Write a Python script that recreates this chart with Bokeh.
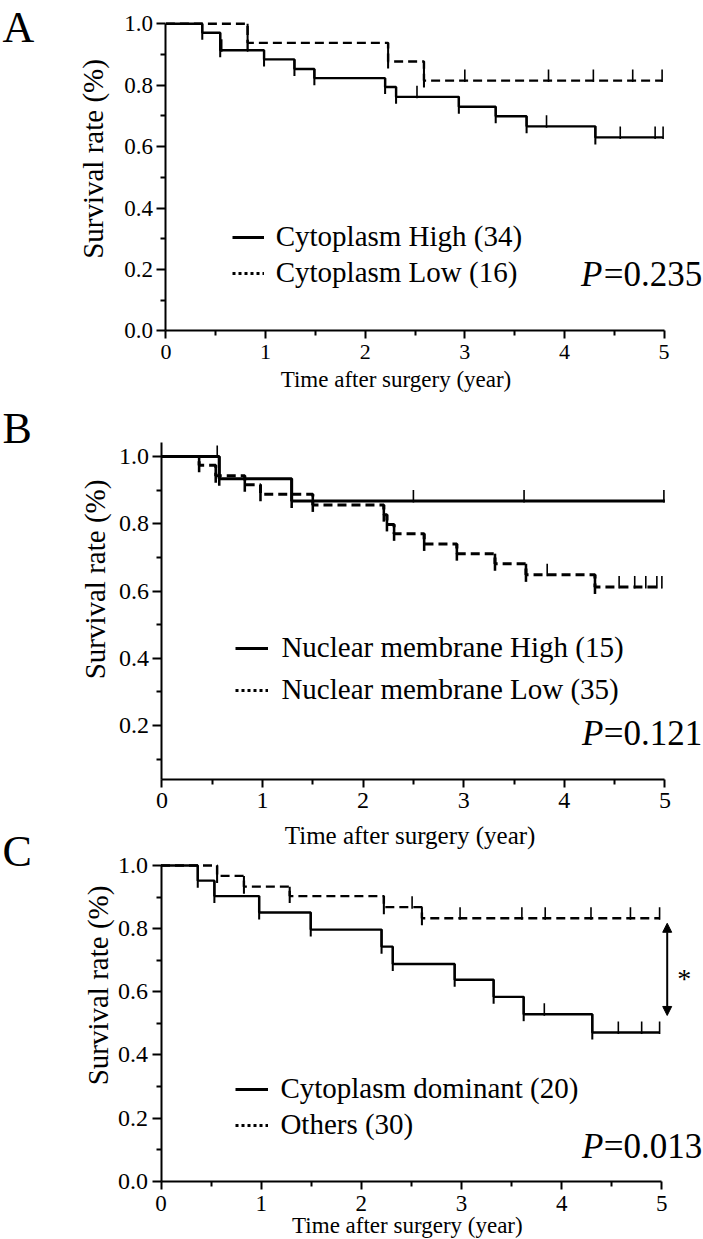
import numpy as np
from bokeh.plotting import figure
from bokeh.models import (Label, Legend, LegendItem, FixedTicker,
                          NumeralTickFormatter, Arrow, NormalHead, Range1d)
from bokeh.layouts import column
from bokeh.embed import file_html
from bokeh.resources import INLINE

FONT = "Liberation Serif"
W = 703

# ---------------- data ----------------
x_ticks = [0, 1, 2, 3, 4, 5]
x_minor = [0.5, 1.5, 2.5, 3.5, 4.5]
y_ticks_full = [0.0, 0.2, 0.4, 0.6, 0.8, 1.0]
y_ticks_b = [0.2, 0.4, 0.6, 0.8, 1.0]
y_minor = [0.1, 0.3, 0.5, 0.7, 0.9]

x_title = "Time after surgery (year)"
y_title = "Survival rate (%)"

# Panel A
a_high_time = [0, 0.365, 0.545, 0.985, 1.29, 1.49, 2.20, 2.31, 2.94, 3.31, 3.62, 4.31]
a_high_surv = [1.0, 0.971, 0.914, 0.884, 0.853, 0.823, 0.794, 0.762, 0.730, 0.699, 0.666, 0.630]
a_high_end = 4.99
a_high_cens = [0.56, 0.82, 2.52, 3.82, 4.56, 4.91, 4.99]
a_low_time = [0, 0.82, 2.23, 2.59]
a_low_surv = [1.0, 0.938, 0.877, 0.815]
a_low_end = 4.98
a_low_cens = [3.00, 3.84, 4.29, 4.685, 4.98]
a_labels = ["Cytoplasm High (34)", "Cytoplasm Low (16)"]
a_pval = "=0.235"

# Panel B
b_high_time = [0, 0.57, 1.29]
b_high_surv = [1.0, 0.934, 0.868]
b_high_end = 5.0
b_high_cens = [0.55, 2.50, 3.60, 4.99]
b_low_time = [0, 0.37, 0.535, 0.824, 0.98, 1.50, 2.206, 2.237, 2.308, 2.607, 2.932, 3.311, 3.619, 4.305]
b_low_surv = [1.0, 0.974, 0.943, 0.916, 0.888, 0.856, 0.827, 0.798, 0.770, 0.740, 0.711, 0.681, 0.648, 0.612]
b_low_end = 4.97
b_low_cens = [3.83, 4.545, 4.70, 4.81, 4.92, 4.97]
b_labels = ["Nuclear membrane High (15)", "Nuclear membrane Low (35)"]
b_pval = "=0.121"

# Panel C
c_dom_time = [0, 0.367, 0.533, 0.98, 1.495, 2.202, 2.314, 2.932, 3.321, 3.621, 4.306]
c_dom_surv = [1.0, 0.952, 0.903, 0.851, 0.797, 0.743, 0.688, 0.638, 0.584, 0.529, 0.471]
c_dom_end = 4.978
c_dom_cens = [3.827, 4.566, 4.799, 4.978]
c_oth_time = [0, 0.56, 0.828, 1.285, 2.225, 2.605]
c_oth_surv = [1.0, 0.967, 0.933, 0.903, 0.868, 0.833]
c_oth_end = 4.978
c_oth_cens = [2.507, 2.986, 3.603, 3.836, 4.293, 4.687, 4.978]
c_labels = ["Cytoplasm dominant (20)", "Others (30)"]
c_pval = "=0.013"
c_arrow = (5.054, 0.525, 0.817)  # x, y bottom, y top


# ---------------- helpers ----------------
def make_fig(top, height, x0px, ppx, y1px, ppy):
    """Canvas spans page rows top..top+height; data x=0 sits at x0px,
    data y=1 at page row y1px."""
    xr = (-x0px / ppx, (W - x0px) / ppx)
    yr = (1 - (top + height - y1px) / ppy, 1 + (y1px - top) / ppy)
    p = figure(width=W, height=height,
               x_range=Range1d(*xr), y_range=Range1d(*yr),
               min_border_left=0, min_border_right=0,
               min_border_top=0, min_border_bottom=0,
               output_backend="svg", toolbar_location=None)
    p.outline_line_color = None
    p.grid.visible = False
    p.background_fill_color = "white"
    p.border_fill_color = "white"
    geo = dict(x0px=x0px, ppx=ppx, y1px=y1px, ppy=ppy)
    return p, geo


def to_data(geo, sx, sy):
    return (sx - geo["x0px"]) / geo["ppx"], 1 - (sy - geo["y1px"]) / geo["ppy"]


def style_axes(p, yticks, xfs, yfs, xloc, ybounds, xstand):
    for ax in (p.xaxis[0], p.yaxis[0]):
        ax.axis_line_width = 2
        ax.axis_line_color = "black"
        ax.major_tick_line_width = 2
        ax.minor_tick_line_width = 2
        ax.major_tick_line_color = "black"
        ax.minor_tick_line_color = "black"
        ax.major_tick_in = 0
        ax.minor_tick_in = 0
        ax.major_label_text_font = FONT
        ax.major_label_text_color = "black"
    xa = p.xaxis[0]
    ya = p.yaxis[0]
    xa.ticker = FixedTicker(ticks=x_ticks, minor_ticks=x_minor)
    xa.formatter = NumeralTickFormatter(format="0")
    xa.major_tick_out = 8
    xa.minor_tick_out = 5
    xa.major_label_standoff = xstand
    xa.major_label_text_font_size = xfs
    xa.fixed_location = xloc
    xa.bounds = (0, 5)
    ya.ticker = FixedTicker(ticks=yticks, minor_ticks=y_minor)
    ya.formatter = NumeralTickFormatter(format="0.0")
    ya.major_tick_out = 9
    ya.minor_tick_out = 5
    ya.major_label_standoff = 4
    ya.major_label_text_font_size = yfs
    ya.fixed_location = 0
    ya.bounds = ybounds


def km(p, geo, time, surv, end, cens, dash, lw):
    ppu = geo["ppy"]
    xs = list(time) + [end]
    ys = list(surv) + [surv[-1]]
    p.step(xs, ys, mode="after", line_color="black", line_width=lw,
           line_dash=dash)
    t = np.array(time)
    s = np.array(surv)
    ext = 7.0 / ppu
    p.segment(x0=t[1:], y0=s[:-1], x1=t[1:], y1=s[1:] - ext,
              line_color="black", line_width=lw * 0.85)
    c = np.array(cens)
    lev = s[np.searchsorted(t, c, side="right") - 1]
    p.segment(x0=c, y0=lev - 1.5 / ppu, x1=c, y1=lev + 11.0 / ppu,
              line_color="black", line_width=1.6)


def add_legend(p, labels, loc, glyph_w, standoff, spacing, fs):
    r1 = p.line(x=[np.nan], y=[np.nan], line_color="black", line_width=3)
    r2 = p.line(x=[np.nan], y=[np.nan], line_color="black", line_width=3,
                line_dash="3 3")
    leg = Legend(items=[LegendItem(label=labels[0], renderers=[r1]),
                        LegendItem(label=labels[1], renderers=[r2])],
                 location=loc, glyph_width=glyph_w, glyph_height=20,
                 label_standoff=standoff, spacing=spacing, padding=0, margin=0,
                 border_line_color=None, background_fill_alpha=0,
                 label_text_font=FONT, label_text_font_size=fs,
                 label_text_color="black")
    p.add_layout(leg)


def text(p, geo, sx, sy, txt, fs, align="center", angle=0, style="normal"):
    """sx, sy: page position of the text's centre line."""
    x, y = to_data(geo, sx, sy)
    p.add_layout(Label(x=x, y=y, text=txt, text_font=FONT,
                       text_font_size=fs, text_align=align,
                       text_baseline="middle", angle=angle,
                       text_font_style=style, text_color="black"))


def pvalue(p, geo, sx_left, sx_right, sy, val):
    text(p, geo, sx_left, sy, "P", "35px", align="left", style="italic")
    text(p, geo, sx_right, sy, val, "35px", align="right")


# ---------------- Panel A (page rows 0-400) ----------------
pA, gA = make_fig(top=0, height=400, x0px=165.4, ppx=99.64, y1px=23.3, ppy=307)
style_axes(pA, y_ticks_full, "22px", "23px", 0, (0, 1), 6)
km(pA, gA, a_high_time, a_high_surv, a_high_end, a_high_cens, "solid", 2.4)
km(pA, gA, a_low_time, a_low_surv, a_low_end, a_low_cens, "9 5", 2.4)
add_legend(pA, a_labels, (231.7, 111), 32, 12, 3, "29px")
text(pA, gA, 2, 27, "A", "44px", align="left")
text(pA, gA, 92, 158.5, y_title, "29px", angle=np.pi / 2)
text(pA, gA, 395.5, 379, x_title, "23px")
pvalue(pA, gA, 580.6, 701.7, 274, a_pval)

# ---------------- Panel B (page rows 400-820) ----------------
pB, gB = make_fig(top=400, height=420, x0px=161.4, ppx=100.6, y1px=456, ppy=336.25)
style_axes(pB, y_ticks_b, "24px", "24px", 0.04, (0.04, 1.0425), 6)
km(pB, gB, b_high_time, b_high_surv, b_high_end, b_high_cens, "solid", 3.0)
km(pB, gB, b_low_time, b_low_surv, b_low_end, b_low_cens, "9 5", 3.0)
add_legend(pB, b_labels, (235.4, 114), 33, 13, 9, "29px")
text(pB, gB, 2, 428, "B", "44px", align="left")
text(pB, gB, 94, 579, y_title, "29px", angle=np.pi / 2)
pvalue(pB, gB, 581.5, 701.7, 733, b_pval)

# ---------------- Panel C (page rows 820-1239) ----------------
pC, gC = make_fig(top=820, height=419, x0px=160.5, ppx=100.16, y1px=865, ppy=315.7)
style_axes(pC, y_ticks_full, "23px", "24px", 0, (0, 1), 7)
km(pC, gC, c_dom_time, c_dom_surv, c_dom_end, c_dom_cens, "solid", 2.4)
km(pC, gC, c_oth_time, c_oth_surv, c_oth_end, c_oth_cens, "9 5", 2.4)
add_legend(pC, c_labels, (235.4, 98), 33, 12, 3, "29px")
# x title of panel B sits in the gap above panel C
text(pC, gC, 409.6, 835, x_title, "25px")
text(pC, gC, 2, 851, "C", "44px", align="left")
text(pC, gC, 97, 985, y_title, "29px", angle=np.pi / 2)
text(pC, gC, 406.9, 1225, x_title, "23px")
pvalue(pC, gC, 581.5, 701.7, 1146, c_pval)
head = dict(size=9, fill_color="black", line_color="black")
pC.add_layout(Arrow(x_start=c_arrow[0], y_start=c_arrow[1],
                    x_end=c_arrow[0], y_end=c_arrow[2],
                    start=NormalHead(**head), end=NormalHead(**head),
                    line_width=2, line_color="black"))
text(pC, gC, 683.7, 977.7, "*", "28px")

layout = column(pA, pB, pC, spacing=0)
open("out.html", "w").write(file_html(layout, INLINE))
